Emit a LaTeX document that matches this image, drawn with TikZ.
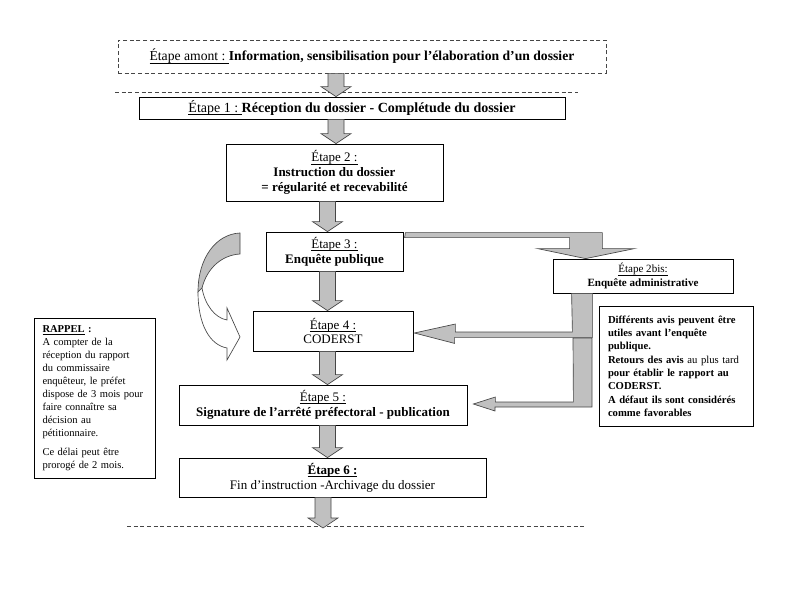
\documentclass[tikz,border=0pt]{standalone}
\usepackage{fontspec}
\setmainfont{Liberation Serif}
\usetikzlibrary{calc}
\usepackage{xcolor}
\definecolor{arrowGrey}{RGB}{192, 192, 192}
\definecolor{edgeGrey}{RGB}{70, 70, 70}

% underlined label, rule just under the baseline
\newcommand{\etq}[1]{\underline{\raisebox{0pt}[\height][0pt]{#1}}}

% grey block arrow going down between two anchors, on a vertical axis
\newcommand{\stepdown}[3]{%
	\draw[blockarrow] let \p1=(#1 |- #2), \p2=(#1 |- #3) in
		(\x1-6pt,\y1) -- (\x1-6pt,\y2+7.5pt) -- (\x1-11.25pt,\y2+7.5pt) -- (\x1,\y2)
		-- (\x1+11.25pt,\y2+7.5pt) -- (\x1+6pt,\y2+7.5pt) -- (\x1+6pt,\y1) -- cycle;}

\begin{document}
\begin{tikzpicture}
    [
		x=0.75pt, y=-0.75pt,
		etape/.style={
			draw, rectangle, align=center, inner sep=0pt, line width=0.6pt,
			fill=white, font=\fontsize{9.75}{11}\selectfont
		},
		memo/.style={
			draw, rectangle, align=left, inner ysep=0pt, line width=0.6pt
		},
		blockarrow/.style={
			fill=arrowGrey, draw=edgeGrey, line width=0.5pt
		},
		cut/.style={
			draw=edgeGrey, dash pattern=on 3pt off 2pt, line width=0.6pt
		}
	]
\useasboundingbox (0,0) rectangle (800,600);

% Nodes
\node (amont) [etape, cut, draw=edgeGrey, minimum width=366pt, minimum height=24.75pt,
	font=\fontsize{10.25}{11}\selectfont] at (362,56.5)
	{\etq{Étape amont :\ }\textbf{Information, sensibilisation pour l’élaboration d’un dossier}};
\node (e1) [etape, minimum width=319.5pt, minimum height=16.5pt,
	font=\fontsize{10.5}{11}\selectfont] at (352,108)
	{\etq{Étape 1 :\ }\textbf{Réception du dossier - Complétude du dossier}};
\node (e2) [etape, minimum width=162.75pt, minimum height=42.75pt] at (334.5,172.5)
	{\etq{Étape 2 :}\\ \textbf{Instruction du dossier}\\ \textbf{= régularité et recevabilité}};
\node (e3) [etape, minimum width=102.75pt, minimum height=29.25pt] at (334.5,251.5)
	{\etq{Étape 3 :}\\ \textbf{Enquête publique}};
\node (e4) [etape, minimum width=120pt, minimum height=30pt] at (333,331)
	{\etq{Étape 4 :}\\ CODERST};
\node (e5) [etape, minimum width=216pt, minimum height=30pt] at (323,405)
	{\etq{Étape 5 :}\\ \textbf{Signature de l’arrêté préfectoral - publication}};
\node (e6) [etape, minimum width=230.25pt, minimum height=29.25pt] at (332.5,477.5)
	{\textbf{\etq{Étape 6 :}}\\ Fin d’instruction -Archivage du dossier};
\node (bis) [etape, minimum width=135pt, minimum height=25.5pt, font=\fontsize{8.3}{10}\selectfont]
	at (643,276) {\etq{Étape 2bis:}\\ \textbf{Enquête administrative}};
\node (avis) [memo, inner xsep=6.75pt, text width=102pt, minimum height=90pt,
	font=\fontsize{8}{10}\selectfont] at (676,366)
	{\textbf{Différents avis peuvent être}\\ \textbf{utiles avant l’enquête}\\ \textbf{publique.}\\
	 \textbf{Retours des avis} au plus tard\\ \textbf{pour établir le rapport au}\\ \textbf{CODERST.}\\
	 \textbf{A défaut ils sont considérés}\\ \textbf{comme favorables}};
\node (rappel) [memo, inner xsep=6.4pt, text width=78pt, minimum height=120pt,
	font=\fontsize{7.9}{9.75}\selectfont] at (94.5,398)
	{\textbf{\etq{RAPPEL} :}\\ A compter de la\\ réception du rapport\\ du commissaire\\
	 enquêteur, le préfet\\ dispose de 3 mois pour\\ faire connaître sa\\ décision au\\ pétitionnaire.\\[4.5pt]
	 Ce délai peut être\\ prorogé de 2 mois.};

% Axes and cuts
\coordinate (axisA) at (336,0);
\coordinate (axisB) at (327.5,0);
\coordinate (axisC) at (323,0);
\coordinate (relay) at (573,338);
\coordinate (cutEnd) at (323,528);
\draw[cut] (115,92) -- (578,92);
\draw[cut] (127,526) -- (585,526);

% Transitions
\stepdown{axisA}{amont.south}{e1.north}
\stepdown{axisA}{e1.south}{e2.north}
\stepdown{axisB}{e2.south}{e3.north}
\stepdown{axisB}{e3.south}{e4.north}
\stepdown{axisB}{e4.south}{e5.north}
\stepdown{axisB}{e5.south}{e6.north}
\stepdown{axisC}{e6.south}{cutEnd}

\draw[blockarrow] ($(e3.north east)+(2,1)$) -- ++(197,0) -- ++(0,16) -- ++(32,0)
	-- ($(bis.north west)+(33,0)$) -- ++(-48,-10) -- ++(32,0) -- ++(0,-11) -- ++(-165,0) -- cycle;

\draw[blockarrow] ($(e4.east)+(1,2)$) -- ++(41,-9) -- ++(0,8) -- ++(117,0)
	-- ($(bis.south west)+(19,0)$) -- ++(21,0) -- ++(0,44) -- ++(-138,0) -- ++(0,6) -- cycle;

\draw[blockarrow] ($(e5.east)+(6,-1)$) -- ++(22,-7) -- ++(0,5) -- ++(78,0)
	-- (relay) -- ++(19,0) -- ++(0,69) -- ++(-97,0) -- ++(0,4) -- cycle;

% Curved arrow beside the public inquiry
\draw[blockarrow] (240,233) .. controls (216,234) and (198,258) .. (198,292)
	-- (202,288) .. controls (207,268) and (222,255) .. (240,254) -- cycle;
\draw[blockarrow, fill=white] (202,288) .. controls (205,305) and (215,318) .. (227,320)
	-- (227,308) -- (240,337) -- (227,360) -- (227,348)
	.. controls (210,345) and (198,325) .. (198,292) -- cycle;

\end{tikzpicture}
\end{document}
